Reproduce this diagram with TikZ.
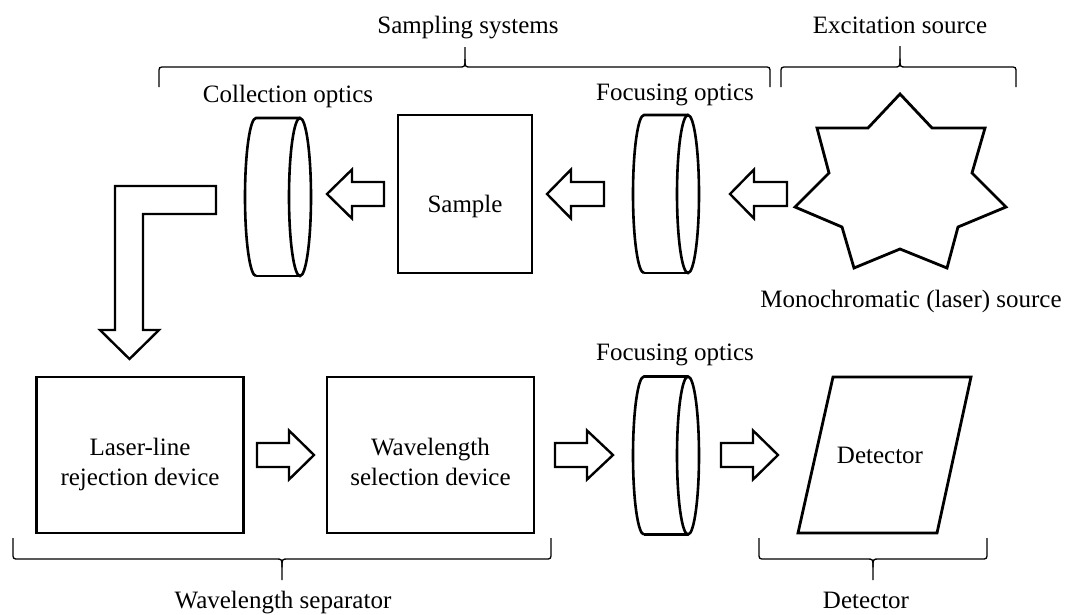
\documentclass[tikz,border=0pt]{standalone}
\usepackage{fontspec}
\setmainfont{Liberation Serif}
\usetikzlibrary{calc}
\newcommand{\blockarrow}[4]{% tail x, head-base x, tip x, y
  \draw[barrow] (#1,{#4-12}) -- (#2,{#4-12}) -- (#2,{#4-24.5}) -- (#3,#4)
    -- (#2,{#4+24.5}) -- (#2,{#4+12}) -- (#1,{#4+12}) -- cycle;}
\newcommand{\hbrace}[6]{% x1, xm, x2, line y, end y, tip y
  \draw[bracel] (#1,#5) -- (#1,{#4+0.3*(#5-#4)}) .. controls (#1,#4) .. ({#1+6},#4)
    -- ({#2-6},#4) .. controls (#2,#4) .. (#2,{#4+0.4*(#6-#4)}) -- (#2,#6);
  \draw[bracel] (#2,{#4+0.4*(#6-#4)}) .. controls (#2,#4) .. ({#2+6},#4)
    -- ({#3-6},#4) .. controls (#3,#4) .. (#3,{#4+0.3*(#5-#4)}) -- (#3,#5);}
\newcommand{\lensdraw}[4]{% name, left centre x, right centre x, centre y
  \draw[lensline] (#2,{#4+79}) arc[start angle=90,end angle=270,x radius=11,y radius=79]
    -- (#3,{#4-79});
  \draw[lensline] (#2,{#4+79}) -- (#3,{#4+79});
  \draw[lensline] (#3,#4) ellipse[x radius=11,y radius=79];
  \node[inner sep=0pt, minimum width=66pt, minimum height=158pt] (#1) at ({(#2+#3)/2},#4) {};}
\begin{document}
\begin{tikzpicture}[x=1pt,y=-1pt,
  lbl/.style={font=\fontsize{25}{30}\selectfont, inner sep=0pt, anchor=base},
  txt/.style={font=\fontsize{25}{30}\selectfont, inner sep=0pt, align=center},
  boxn/.style={draw=black, line width=2.8pt, inner sep=0pt},
  boxline/.style={draw=black, line width=2.8pt, line join=miter},
  lensline/.style={draw=black, line width=2.6pt},
  barrow/.style={draw=black, line width=2.4pt, fill=white, line join=miter},
  bracel/.style={draw=black, line width=1.3pt},
]
\fill[white] (0,0) rectangle (1068,614);
\useasboundingbox (0,0) rectangle (1068,614);

% braces and their labels
\hbrace{159}{465}{770}{67}{87}{47}
\hbrace{781}{900}{1016}{67}{87}{46}
\hbrace{13}{282}{551}{559}{538}{580}
\hbrace{759}{873}{987}{559}{538}{580}
\node[lbl] (lsamp) at (468,33) {Sampling systems};
\node[lbl] (lexc) at (900,33) {Excitation source};
\node[lbl] (lsep) at (283,608) {Wavelength separator};
\node[lbl] (ldet) at (866,608) {Detector};

% excitation source (star)
\draw[boxline] (900,94) -- (868,128) -- (817,128) -- (829,173) -- (795,207)
  -- (842,227) -- (854,268) -- (900,249) -- (947,268) -- (958,227)
  -- (1006,207) -- (972,173) -- (985,128) -- (932,128) -- cycle;
\coordinate (star) at (900,185);
\node[lbl] (lmono) at (911,307) {Monochromatic (laser) source};

% top row
\lensdraw{focusT}{644}{688}{194}
\node[lbl] (lfocT) at (675,100) {Focusing optics};
\node[boxn, minimum width=134pt, minimum height=158pt] (sample) at (465,194) {};
\node[lbl] at (465,212) {Sample};
\lensdraw{collect}{256}{300}{197}
\node[lbl] (lcol) at (288,102) {Collection optics};

\blockarrow{787}{754}{730}{194}
\blockarrow{604}{571}{547}{194}
\blockarrow{384}{352}{327}{194}

% L-shaped arrow
\draw[barrow] (216,186) -- (115,186) -- (115,330) -- (100,330) -- (129.5,359)
  -- (159,330) -- (143,330) -- (143,214) -- (216,214) -- cycle;

% bottom row
\node[boxn, minimum width=207pt, minimum height=156pt] (laser) at (140,455) {};
\node[txt] at ($(laser.center)+(0,9)$) {Laser-line\\rejection device};
\node[boxn, minimum width=207pt, minimum height=156pt] (wsel) at (430.5,455) {};
\node[txt] at ($(wsel.center)+(0,7)$) {Wavelength\\selection device};
\lensdraw{focusB}{644}{688}{455.5}
\node[lbl] (lfocB) at (675,360) {Focusing optics};
\draw[boxline] (833,377) -- (971,377) -- (937,533) -- (798,533) -- cycle;
\node[lbl] (det) at (880,463) {Detector};

\blockarrow{257}{289}{314}{455}
\blockarrow{555}{587}{613}{455}
\blockarrow{721}{753}{778}{455}
\end{tikzpicture}
\end{document}
